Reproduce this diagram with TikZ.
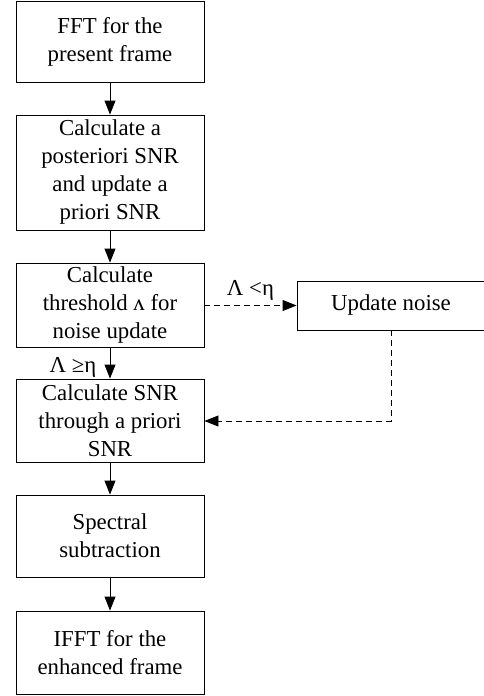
\documentclass[tikz,border=0pt]{standalone}
\usepackage{fontspec}
\setmainfont{Liberation Serif}
\usetikzlibrary{arrows.meta}
\begin{document}
\begin{tikzpicture}[x=1pt,y=-1pt,
  stepbox/.style={draw,line width=.9pt,minimum width=188pt,align=center,
    font=\fontsize{22.8}{28}\selectfont,inner sep=0pt},
  flow/.style={line width=.9pt,-{Triangle[length=14pt,width=11pt]}},
  noiseflow/.style={flow,dashed,dash pattern=on 6pt off 4pt}]
\useasboundingbox (0,0) rectangle (484,696);
\node[stepbox,minimum height=81pt](fft)at(110,41.5){FFT for the\\present frame};
\node[stepbox,minimum height=115pt](snr)at(110,172.5){Calculate a\\posteriori SNR\\and update a\\priori SNR};
\node[stepbox,minimum height=84pt](thr)at(110,305){Calculate\\threshold ʌ for\\noise update};
\node[stepbox,minimum height=83pt](est)at(110,420.5){Calculate SNR\\through a priori\\SNR};
\node[stepbox,minimum height=82pt](sub)at(110,536){Spectral\\subtraction};
\node[stepbox,minimum height=83pt](ifft)at(110,652.5){IFFT for the\\enhanced frame};
\node[stepbox,minimum height=49pt](upd)at(391,305.5){Update noise};
\draw[flow](fft)--(snr);
\draw[flow](snr)--(thr);
\draw[flow](thr)--(est)node[midway,left=10pt,yshift=-4pt,font=\fontsize{22.8}{22.8}\selectfont]{Λ ≥η};
\draw[flow](est)--(sub);
\draw[flow](sub)--(ifft);
\draw[noiseflow](thr.east|-upd)--(upd)node[midway,above=1pt,font=\fontsize{22.8}{22.8}\selectfont]{Λ <η};
\draw[noiseflow](upd.south)|-(est.east|-{(0,421)});
\end{tikzpicture}
\end{document}
